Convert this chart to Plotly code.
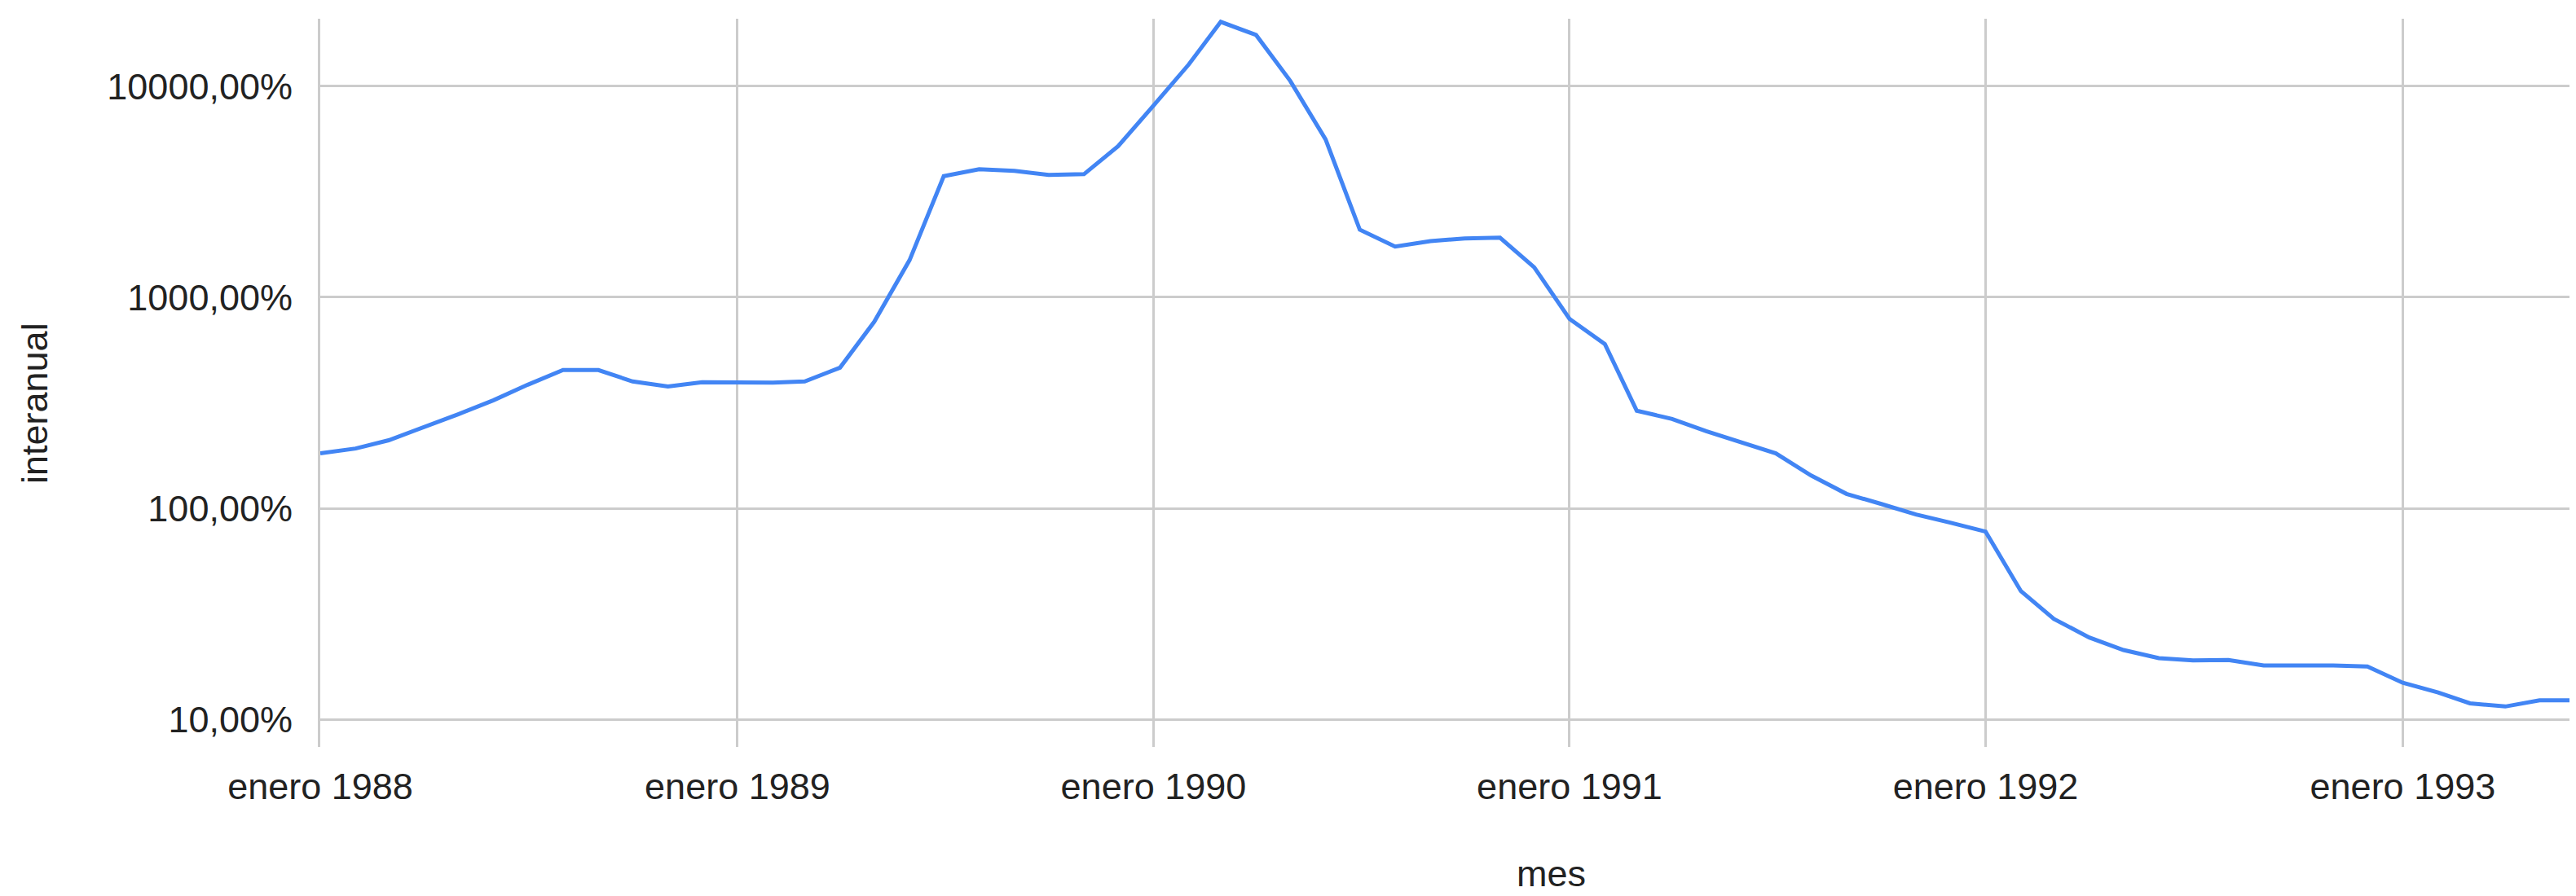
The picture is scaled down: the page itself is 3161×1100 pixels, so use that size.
import plotly.graph_objects as go

# Monthly dates, Jan 1988 .. Jun 1993
meses = [f"{1988 + i // 12}-{i % 12 + 1:02d}-01" for i in range(66)]

# Year-over-year inflation (%)
interanual = [
    182, 192, 210, 242, 279, 325, 385, 452, 452, 399, 378, 396,   # 1988
    396, 394, 399, 464, 765, 1500, 3750, 4040, 3970, 3800, 3830, 5200,  # 1989
    8100, 12700, 20200, 17500, 10600, 5600, 2090, 1740, 1846, 1900, 1915, 1387,  # 1990
    790, 600, 290, 265, 232, 206, 182, 143, 117, 105, 93.5, 85.5,  # 1991
    77.5, 40.5, 29.9, 24.4, 21.3, 19.5, 19.0, 19.1, 18.0, 18.0, 18.0, 17.8,  # 1992
    14.9, 13.4, 11.9, 11.5, 12.3, 12.3,  # 1993
]

tick_dates = ["1988-01-01", "1989-01-01", "1990-01-01", "1991-01-01", "1992-01-01", "1993-01-01"]
tick_labels = ["enero 1988", "enero 1989", "enero 1990", "enero 1991", "enero 1992", "enero 1993"]
y_ticks = [10, 100, 1000, 10000]
y_tick_labels = ["10,00%", "100,00%", "1000,00%", "10000,00%"]

FONT = "Liberation Sans, Arial, sans-serif"
GRID = "#cccccc"
TXT = "#222222"

# The page body has an 8px default margin; the figure is sized to fill the
# remaining window so that the plot sits where it does in the reference.
W, H = 3161 - 8, 1100 - 8
L_M, T_M, B_M = 385, 15, 183
PW, PH = W - L_M, H - T_M - B_M  # 2768 x 894


def px_x(page_x):
    return (page_x - 8 - L_M) / PW


def px_y(page_y):
    return (T_M + PH - (page_y - 8)) / PH


fig = go.Figure()
fig.add_trace(go.Scatter(
    x=meses, y=interanual, mode="lines",
    line=dict(color="#4285F4", width=5),
    hoverinfo="skip", showlegend=False,
))

fig.update_layout(
    width=W, height=H,
    margin=dict(l=L_M, r=0, t=T_M, b=B_M, pad=0),
    paper_bgcolor="white", plot_bgcolor="white",
    font=dict(family=FONT, size=45, color=TXT),
    showlegend=False,
    xaxis=dict(
        type="date",
        range=["1988-01-01", "1993-06-02"],
        tickvals=tick_dates, ticktext=tick_labels,
        showgrid=True, gridcolor=GRID, gridwidth=3,
        showline=False, zeroline=False, ticks="",
        ticklabelstandoff=18,
        tickfont=dict(family=FONT, size=45, color=TXT),
    ),
    yaxis=dict(
        type="log",
        range=[0.869, 4.320],
        tickvals=y_ticks, ticktext=y_tick_labels,
        showgrid=True, gridcolor=GRID, gridwidth=3,
        showline=True, linecolor=GRID, linewidth=3,
        zeroline=False, ticks="",
        ticklabelstandoff=22,
        tickfont=dict(family=FONT, size=45, color=TXT),
    ),
    annotations=[
        dict(text="interanual", xref="paper", yref="paper",
             x=px_x(42), y=px_y(495),
             xanchor="center", yanchor="middle", textangle=-90,
             showarrow=False, font=dict(family=FONT, size=45, color=TXT)),
        dict(text="mes", xref="paper", yref="paper",
             x=px_x(1903), y=px_y(1072),
             xanchor="center", yanchor="middle",
             showarrow=False, font=dict(family=FONT, size=45, color=TXT)),
    ],
)

fig.write_html("out.html")
